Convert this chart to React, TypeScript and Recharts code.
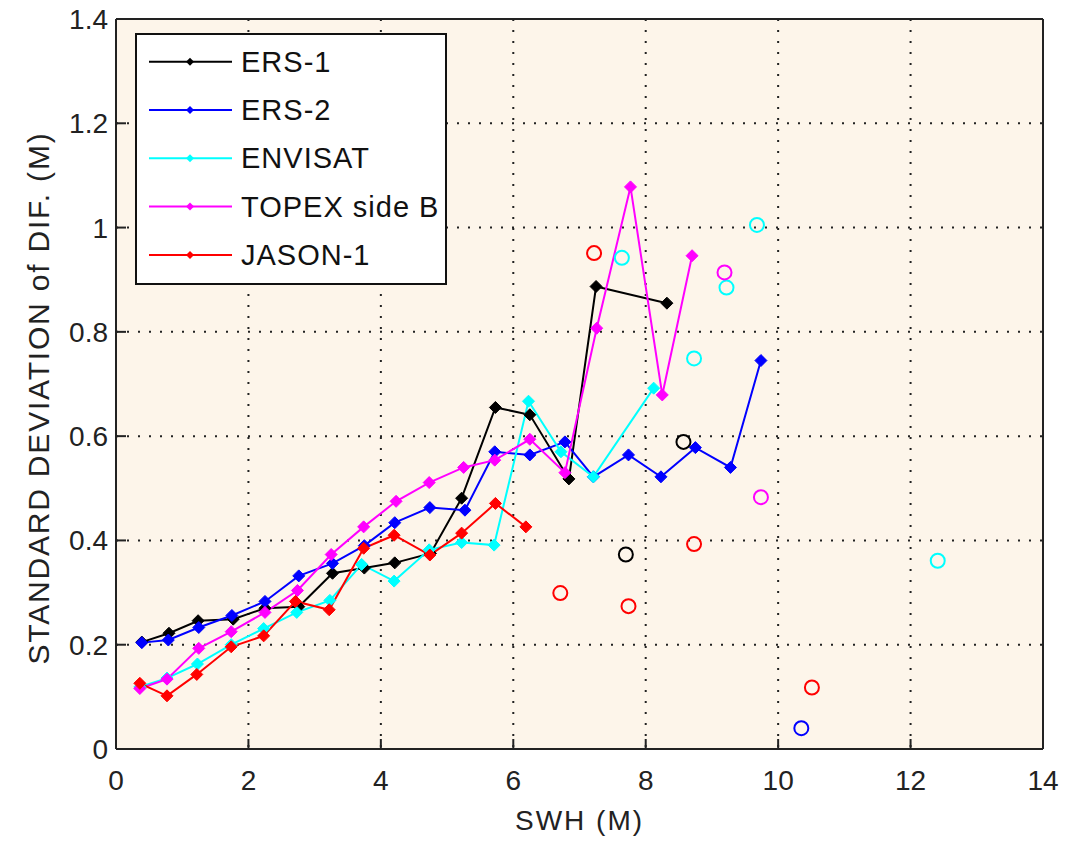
import React from 'react';
import { ComposedChart, Line, Scatter, XAxis, YAxis, CartesianGrid, Legend, Label } from 'recharts';

const xTicks = [0, 2, 4, 6, 8, 10, 12, 14];
const yTicks = [0, 0.2, 0.4, 0.6, 0.8, 1, 1.2, 1.4];

const ers1X = [0.39, 0.8, 1.24, 1.77, 2.25, 2.76, 3.27, 3.75, 4.21, 4.75, 5.22, 5.73, 6.25, 6.84, 7.25, 8.32];
const ers1Y = [0.205, 0.222, 0.246, 0.249, 0.27, 0.273, 0.337, 0.347, 0.357, 0.375, 0.481, 0.655, 0.641, 0.518, 0.887, 0.855];

const ers2X = [0.39, 0.79, 1.25, 1.75, 2.25, 2.76, 3.27, 3.75, 4.21, 4.74, 5.27, 5.72, 6.25, 6.78, 7.21, 7.74, 8.23, 8.75, 9.28, 9.74];
const ers2Y = [0.204, 0.209, 0.233, 0.256, 0.283, 0.332, 0.356, 0.39, 0.434, 0.463, 0.458, 0.57, 0.564, 0.589, 0.522, 0.564, 0.522, 0.578, 0.54, 0.745];

const envX = [0.36, 0.77, 1.23, 1.74, 2.23, 2.73, 3.23, 3.71, 4.2, 4.73, 5.22, 5.71, 6.23, 6.72, 7.21, 8.12];
const envY = [0.119, 0.136, 0.163, 0.2, 0.231, 0.262, 0.285, 0.354, 0.322, 0.382, 0.396, 0.391, 0.667, 0.57, 0.522, 0.692];

const topX = [0.36, 0.77, 1.25, 1.74, 2.25, 2.74, 3.25, 3.74, 4.23, 4.73, 5.25, 5.72, 6.25, 6.78, 7.26, 7.77, 8.25, 8.7];
const topY = [0.116, 0.134, 0.193, 0.225, 0.262, 0.304, 0.373, 0.426, 0.475, 0.511, 0.54, 0.554, 0.594, 0.53, 0.807, 1.078, 0.679, 0.946];

const jasX = [0.36, 0.77, 1.22, 1.74, 2.23, 2.71, 3.22, 3.74, 4.2, 4.74, 5.22, 5.73, 6.19];
const jasY = [0.126, 0.102, 0.143, 0.196, 0.217, 0.283, 0.267, 0.385, 0.41, 0.372, 0.414, 0.471, 0.426];

// isolated (unconnected) points, drawn as open circles
const ers1OutX = [7.7, 8.57];
const ers1OutY = [0.373, 0.589];
const ers2OutX = [10.35];
const ers2OutY = [0.04];
const envOutX = [7.64, 8.73, 9.22, 9.68, 12.41];
const envOutY = [0.942, 0.749, 0.885, 1.005, 0.361];
const topOutX = [9.19, 9.74];
const topOutY = [0.914, 0.483];
const jasOutX = [6.71, 7.22, 7.74, 8.73, 10.51];
const jasOutY = [0.299, 0.951, 0.274, 0.393, 0.118];

const names = ['ERS-1', 'ERS-2', 'ENVISAT', 'TOPEX side B', 'JASON-1'];
const colors = ['#000000', '#0000ff', '#00ffff', '#ff00ff', '#ff0000'];

const zip = (xs: number[], ys: number[]) => xs.map((x, i) => ({ x, y: ys[i] }));

const lineSeries = [
  zip(ers1X, ers1Y),
  zip(ers2X, ers2Y),
  zip(envX, envY),
  zip(topX, topY),
  zip(jasX, jasY),
];
const outSeries = [
  zip(ers1OutX, ers1OutY),
  zip(ers2OutX, ers2OutY),
  zip(envOutX, envOutY),
  zip(topOutX, topOutY),
  zip(jasOutX, jasOutY),
];

const FONT = '"Liberation Sans", Arial, Helvetica, sans-serif';
const AX = '#222222';

const makeDiamond = (color: string, s: number) => (p: any) => {
  const { cx, cy, index } = p;
  if (cx == null || cy == null) return <g key={`d-${index}`} />;
  return (
    <path
      key={`d-${index}`}
      d={`M${cx},${cy - s}L${cx + s},${cy}L${cx},${cy + s}L${cx - s},${cy}Z`}
      fill={color}
      stroke={color}
      strokeWidth={1}
    />
  );
};

const makeCircle = (color: string) => (p: any) => (
  <circle cx={p.cx} cy={p.cy} r={7} fill="none" stroke={color} strokeWidth={2} />
);

const LegendBox = () => {
  const w = 312;
  const h = 252;
  return (
    <svg width={w} height={h} style={{ display: 'block' }}>
      <rect x={1} y={1} width={w - 2} height={h - 2} fill="#ffffff" stroke="#111" strokeWidth={2} />
      {names.map((n, i) => {
        const y = 28.7 + i * 48.3;
        return (
          <g key={n}>
            <line x1={14} x2={97} y1={y} y2={y} stroke={colors[i]} strokeWidth={2} />
            <path d={`M55,${y - 4}L59,${y}L55,${y + 4}L51,${y}Z`} fill={colors[i]} />
            <text
              x={106}
              y={y}
              dominantBaseline="central"
              fontFamily={FONT}
              fontSize={29}
              letterSpacing={1}
              fill="#111"
            >
              {n}
            </text>
          </g>
        );
      })}
    </svg>
  );
};

const YLabel = (props: any) => {
  const vb = props.viewBox || { x: 0, y: 0, width: 0, height: 0 };
  const cx = vb.x + 38;
  const cy = vb.y + vb.height / 2 + 14;
  return (
    <text
      x={cx}
      y={cy}
      transform={`rotate(-90 ${cx} ${cy})`}
      textAnchor="middle"
      dominantBaseline="central"
      fontFamily={FONT}
      fontSize={30}
      letterSpacing={1.8}
      fill="#222"
    >
      STANDARD DEVIATION of DIF. (M)
    </text>
  );
};

export default function App() {
  return (
    <div style={{ position: 'absolute', left: 0, top: 0, background: '#ffffff' }}>
      <ComposedChart width={1073} height={841} margin={{ top: 18, right: 29, left: 0, bottom: 0 }}>
        <CartesianGrid
          xAxisId="b"
          yAxisId="l"
          fill="#fdf5ea"
          stroke="#222"
          strokeWidth={2}
          strokeDasharray="2 9"
        />
        <XAxis
          xAxisId="b"
          type="number"
          dataKey="x"
          domain={[0, 14]}
          ticks={xTicks}
          allowDataOverflow
          height={92}
          tickSize={-10}
          tickMargin={31}
          axisLine={{ stroke: AX, strokeWidth: 2 }}
          tickLine={{ stroke: AX, strokeWidth: 2 }}
          tick={{ fill: '#222', fontSize: 28, fontFamily: FONT }}
        >
          <Label
            value="SWH (M)"
            position="insideBottom"
            offset={11}
            style={{ fontFamily: FONT, fontSize: 28, letterSpacing: 2, fill: '#222' }}
          />
        </XAxis>
        <XAxis
          xAxisId="t"
          orientation="top"
          type="number"
          dataKey="x"
          domain={[0, 14]}
          ticks={xTicks}
          allowDataOverflow
          height={1}
          tickSize={-10}
          tick={false}
          axisLine={{ stroke: AX, strokeWidth: 2 }}
          tickLine={{ stroke: AX, strokeWidth: 2 }}
        />
        <YAxis
          yAxisId="l"
          type="number"
          domain={[0, 1.4]}
          ticks={yTicks}
          allowDataOverflow
          width={116}
          tickSize={-10}
          tickMargin={18}
          axisLine={{ stroke: AX, strokeWidth: 2 }}
          tickLine={{ stroke: AX, strokeWidth: 2 }}
          tick={{ fill: '#222', fontSize: 28, fontFamily: FONT }}
        >
          <Label content={YLabel} position="insideLeft" />
        </YAxis>
        <YAxis
          yAxisId="r"
          orientation="right"
          type="number"
          domain={[0, 1.4]}
          ticks={yTicks}
          allowDataOverflow
          width={1}
          tickSize={-10}
          tick={false}
          axisLine={{ stroke: AX, strokeWidth: 2 }}
          tickLine={{ stroke: AX, strokeWidth: 2 }}
        />
        {lineSeries.map((d, i) => (
          <Line
            key={names[i]}
            xAxisId="b"
            yAxisId="l"
            data={d}
            dataKey="y"
            name={names[i]}
            type="linear"
            stroke={colors[i]}
            strokeWidth={2}
            dot={makeDiamond(colors[i], 6)}
            activeDot={false}
            isAnimationActive={false}
          />
        ))}
        {outSeries.map((d, i) => (
          <Scatter
            key={`o-${names[i]}`}
            xAxisId="b"
            yAxisId="l"
            data={d}
            dataKey="y"
            name={`${names[i]} out`}
            shape={makeCircle(colors[i])}
            isAnimationActive={false}
          />
        ))}
        <Legend
          layout="horizontal"
          verticalAlign="middle"
          align="center"
          content={() => <LegendBox />}
          wrapperStyle={{ left: 135, top: 33, width: 312, height: 252 }}
        />
      </ComposedChart>
    </div>
  );
}
